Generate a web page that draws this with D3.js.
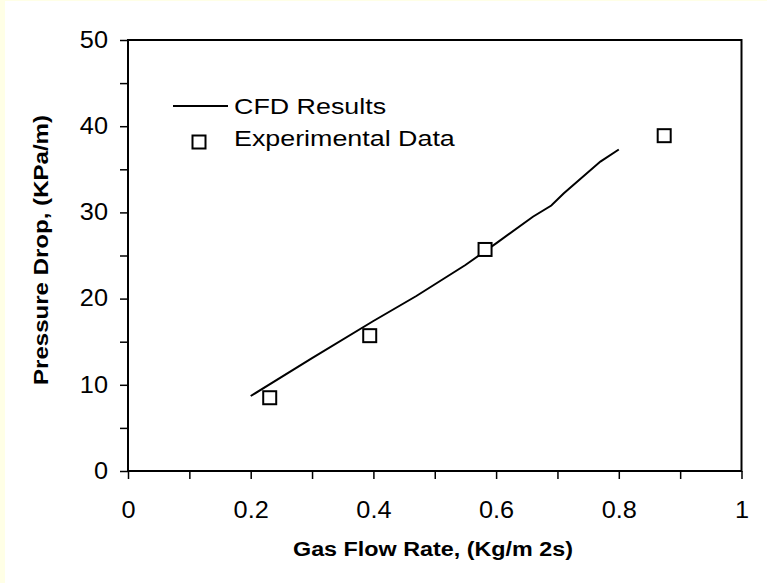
<!DOCTYPE html>
<html>
<head>
<meta charset="utf-8">
<script src="https://cdn.jsdelivr.net/npm/d3@7"></script>
<style>
  html, body { margin: 0; padding: 0; background: #ffffe6; }
  svg { display: block; }
</style>
</head>
<body>
<script>
// ---- data ----
const cfdX = [0.20, 0.30, 0.40, 0.47, 0.55, 0.60, 0.66, 0.69, 0.71, 0.77, 0.80];
const cfdY = [8.7, 13.1, 17.4, 20.3, 23.9, 26.4, 29.5, 30.8, 32.2, 35.9, 37.3];
const expX = [0.231, 0.394, 0.582, 0.874];
const expY = [8.5, 15.7, 25.7, 38.9];
const xTicks = [0, 0.2, 0.4, 0.6, 0.8, 1];
const xMinorTicks = [0, 0.1, 0.2, 0.3, 0.4, 0.5, 0.6, 0.7, 0.8, 0.9, 1];
const yTicks = [0, 10, 20, 30, 40, 50];
const yMinorTicks = [0, 5, 10, 15, 20, 25, 30, 35, 40, 45, 50];
const legendLabels = ["CFD Results", "Experimental Data"];
const xTitle = "Gas Flow Rate, (Kg/m 2s)";
const yTitle = "Pressure Drop, (KPa/m)";

(function () {
const W = 767, H = 583;
const svg = d3.select("body").append("svg").attr("width", W).attr("height", H);
svg.append("rect").attr("x", 5).attr("y", 1).attr("width", W - 5).attr("height", H - 1).attr("fill", "#ffffff");

const pL = 128, pR = 741.5, pT = 40, pB = 471;
const x = d3.scaleLinear().domain([0, 1]).range([pL, pR]);
const y = d3.scaleLinear().domain([0, 50]).range([pB, pT]);
const font = "Liberation Sans, Arial, sans-serif";

// the reference text is horizontally stretched
function stretch(sel, f) {
  sel.each(function () {
    const w = this.getComputedTextLength();
    d3.select(this).attr("textLength", w * f).attr("lengthAdjust", "spacingAndGlyphs");
  });
}

// all ticks (no labels)
svg.append("g").attr("transform", `translate(0,${pB})`)
  .call(d3.axisBottom(x).tickValues(xMinorTicks).tickSize(8).tickFormat(""))
  .call(g => g.select(".domain").remove())
  .call(g => g.selectAll("line").attr("stroke", "#000").attr("stroke-width", 1.5));
svg.append("g").attr("transform", `translate(${pL},0)`)
  .call(d3.axisLeft(y).tickValues(yMinorTicks).tickSize(8).tickFormat(""))
  .call(g => g.select(".domain").remove())
  .call(g => g.selectAll("line").attr("stroke", "#000").attr("stroke-width", 1.5));

// labeled axes
svg.append("g").attr("transform", `translate(0,${pB})`)
  .call(d3.axisBottom(x).tickValues(xTicks).tickSize(0).tickPadding(31).tickFormat(d => d3.format("")(d)))
  .call(g => g.select(".domain").remove())
  .call(g => g.selectAll("text").attr("font-family", font).attr("font-size", 23).attr("fill", "#000").call(stretch, 1.1));
svg.append("g").attr("transform", `translate(${pL},0)`)
  .call(d3.axisLeft(y).tickValues(yTicks).tickSize(0).tickPadding(20))
  .call(g => g.select(".domain").remove())
  .call(g => g.selectAll("text").attr("font-family", font).attr("font-size", 23).attr("fill", "#000").call(stretch, 1.1));

// frame
svg.append("rect").attr("x", pL).attr("y", pT).attr("width", pR - pL).attr("height", pB - pT)
  .attr("fill", "none").attr("stroke", "#000").attr("stroke-width", 2);

// CFD line
const cfd = cfdX.map((v, i) => [v, cfdY[i]]);
svg.append("path").datum(cfd)
  .attr("d", d3.line().x(d => x(d[0])).y(d => y(d[1])))
  .attr("fill", "none").attr("stroke", "#000").attr("stroke-width", 2);

// experimental squares
const s = 13;
svg.selectAll("rect.exp").data(expX.map((v, i) => [v, expY[i]])).enter().append("rect")
  .attr("class", "exp")
  .attr("x", d => x(d[0]) - s / 2).attr("y", d => y(d[1]) - s / 2)
  .attr("width", s).attr("height", s)
  .attr("fill", "#fff").attr("stroke", "#000").attr("stroke-width", 2);

// legend
svg.append("line").attr("x1", 173).attr("x2", 228).attr("y1", 106).attr("y2", 106)
  .attr("stroke", "#000").attr("stroke-width", 2);
svg.append("rect").attr("x", 199 - s / 2).attr("y", 142 - s / 2).attr("width", s).attr("height", s)
  .attr("fill", "#fff").attr("stroke", "#000").attr("stroke-width", 2);
svg.selectAll("text.leg").data(legendLabels).enter().append("text")
  .attr("class", "leg")
  .attr("x", 234).attr("y", (d, i) => 114 + i * 32)
  .attr("font-family", font).attr("font-size", 22).attr("fill", "#000")
  .text(d => d)
  .call(stretch, 1.22);

// axis titles
svg.append("text").attr("x", 433).attr("y", 556)
  .attr("text-anchor", "middle").attr("font-family", font).attr("font-size", 20)
  .attr("font-weight", "bold").attr("fill", "#000")
  .attr("textLength", 280).attr("lengthAdjust", "spacingAndGlyphs")
  .text(xTitle);

svg.append("text").attr("transform", `translate(48,250) rotate(-90)`)
  .attr("text-anchor", "middle").attr("font-family", font).attr("font-size", 20)
  .attr("font-weight", "bold").attr("fill", "#000")
  .attr("textLength", 270).attr("lengthAdjust", "spacingAndGlyphs")
  .text(yTitle);
})();
</script>
</body>
</html>
